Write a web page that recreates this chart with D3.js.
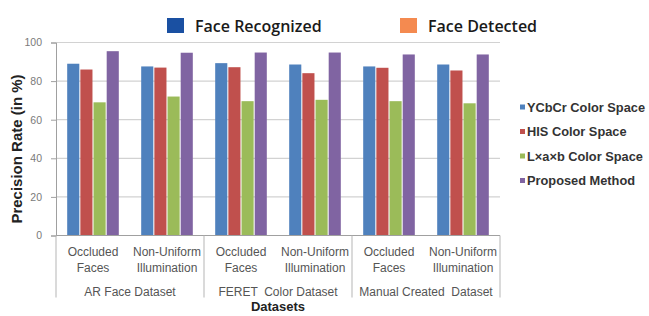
<!DOCTYPE html>
<html>
<head>
<meta charset="utf-8">
<script src="https://cdn.jsdelivr.net/npm/d3@7"></script>
<style>
  body { margin: 0; background: #fff; }
  svg { display: block; }
</style>
</head>
<body>
<script>
const width = 649;
const height = 316;
const margin = { left: 56, right: 149, top: 42.5, bottom: 80.5 };

// data
const datasets = ["AR Face Dataset", "FERET  Color Dataset", "Manual Created  Dataset"];
const conditions = [["Occluded", "Faces"], ["Non-Uniform", "Illumination"]];
const seriesNames = ["YCbCr Color Space", "HIS Color Space", "L\u00d7a\u00d7b Color Space", "Proposed Method"];
const ycbcr = [89, 87.6, 89.3, 88.6, 87.6, 88.6];
const his = [86, 87, 87.2, 84.1, 86.9, 85.5];
const lab = [69, 72, 69.6, 70.3, 69.6, 68.5];
const proposed = [95.5, 94.7, 94.8, 94.8, 93.8, 93.8];
const yTicks = [0, 20, 40, 60, 80, 100];
const topLegend = ["Face Recognized", "Face Detected"];

const seriesColors = ["#4f81bd", "#c0504d", "#9bbb59", "#8064a2"];
const topColors = ["#1a50a2", "#f48a50"];

const allSeries = [ycbcr, his, lab, proposed];
const cats = d3.range(datasets.length * conditions.length);

const svg = d3.select("body")
  .append("svg")
  .attr("width", width)
  .attr("height", height);

const x0 = d3.scaleBand()
  .domain(cats)
  .range([margin.left, width - margin.right])
  .paddingInner(0)
  .paddingOuter(0);

const x1 = d3.scaleBand()
  .domain(d3.range(seriesNames.length))
  .range([0, x0.bandwidth()])
  .paddingInner(0.08)
  .paddingOuter(0.85);

const y = d3.scaleLinear()
  .domain([0, 100])
  .range([height - margin.bottom, margin.top]);

// gridlines
svg.selectAll(".grid")
  .data(yTicks.filter(d => d > 0))
  .enter()
  .append("line")
  .attr("x1", margin.left)
  .attr("x2", width - margin.right)
  .attr("y1", d => y(d))
  .attr("y2", d => y(d))
  .attr("stroke", "#d2d2d2")
  .attr("stroke-width", 1.2);

// bars
const groups = svg.selectAll(".cat")
  .data(cats)
  .enter()
  .append("g")
  .attr("transform", d => `translate(${x0(d)},0)`);

groups.selectAll("rect")
  .data(c => allSeries.map((s, i) => ({ i, v: s[c] })))
  .enter()
  .append("rect")
  .attr("x", d => x1(d.i))
  .attr("width", x1.bandwidth())
  .attr("y", d => y(d.v))
  .attr("height", d => y(0) - y(d.v))
  .attr("fill", d => seriesColors[d.i]);

// y axis
const yAxis = svg.append("g")
  .attr("transform", `translate(${margin.left},0)`)
  .call(d3.axisLeft(y).tickValues(yTicks).tickSize(5).tickPadding(9));
yAxis.select(".domain").attr("stroke", "#a0a0a0");
yAxis.selectAll(".tick line").attr("stroke", "#a0a0a0");
yAxis.selectAll("text")
  .attr("fill", "#7a7a7a")
  .style("font-family", "Liberation Sans, Arial, sans-serif")
  .style("font-size", "10.5px");

// x axis line
svg.append("line")
  .attr("x1", margin.left)
  .attr("x2", width - margin.right)
  .attr("y1", y(0))
  .attr("y2", y(0))
  .attr("stroke", "#a0a0a0")
  .attr("stroke-width", 1.2);

// dataset separators
const sepX = d3.range(datasets.length + 1).map(k => k === datasets.length
  ? x0.range()[1]
  : x0(k * conditions.length));
svg.selectAll(".sep")
  .data(sepX)
  .enter()
  .append("line")
  .attr("x1", d => d)
  .attr("x2", d => d)
  .attr("y1", y(0))
  .attr("y2", y(0) + 62)
  .attr("stroke", "#b5b5b5");

const labelFont = "Liberation Sans, Arial, sans-serif";

// condition labels
cats.forEach(c => {
  const cx = x0(c) + x0.bandwidth() / 2;
  const lines = conditions[c % conditions.length];
  lines.forEach((t, k) => {
    svg.append("text")
      .attr("x", cx)
      .attr("y", y(0) + 20.5 + k * 16)
      .attr("text-anchor", "middle")
      .attr("fill", "#555")
      .style("font-family", labelFont)
      .style("font-size", "12px")
      .text(t);
  });
});

// dataset labels
datasets.forEach((t, k) => {
  const cx = (sepX[k] + sepX[k + 1]) / 2;
  svg.append("text")
    .attr("x", cx)
    .attr("y", y(0) + 60.5)
    .attr("text-anchor", "middle")
    .attr("fill", "#555")
    .style("font-family", labelFont)
    .style("font-size", "12px")
    .style("white-space", "pre")
    .text(t);
});

// axis titles
svg.append("text")
  .attr("x", (margin.left + width - margin.right) / 2)
  .attr("y", 311)
  .attr("text-anchor", "middle")
  .attr("fill", "#222")
  .style("font-family", labelFont)
  .style("font-size", "13px")
  .style("font-weight", "bold")
  .text("Datasets");

svg.append("text")
  .attr("transform", "translate(22,149) rotate(-90)")
  .attr("text-anchor", "middle")
  .attr("fill", "#222")
  .style("font-family", labelFont)
  .style("font-size", "15px")
  .style("font-weight", "bold")
  .text("Precision Rate (in %)");

// right legend
const leg = svg.selectAll(".leg")
  .data(seriesNames)
  .enter()
  .append("g")
  .attr("transform", (d, i) => `translate(520,${107 + i * 24.5})`);
leg.append("rect")
  .attr("x", 0)
  .attr("y", -2.5)
  .attr("width", 5)
  .attr("height", 5)
  .attr("fill", (d, i) => seriesColors[i]);
leg.append("text")
  .attr("x", 7)
  .attr("y", 4.5)
  .attr("fill", "#333")
  .style("font-family", labelFont)
  .style("font-size", "12.8px")
  .style("font-weight", "bold")
  .text(d => d);

// top legend
const topX = [167, 400];
const tl = svg.selectAll(".tl")
  .data(topLegend)
  .enter()
  .append("g")
  .attr("transform", (d, i) => `translate(${topX[i]},18)`);
tl.append("rect")
  .attr("width", 17)
  .attr("height", 15)
  .attr("fill", (d, i) => topColors[i]);
tl.append("text")
  .attr("x", 28)
  .attr("y", 13.5)
  .attr("fill", "#1a1a1a")
  .style("font-family", "Open Sans, sans-serif")
  .style("font-size", "16px")
  .style("font-weight", "600")
  .text(d => d);
</script>
</body>
</html>
